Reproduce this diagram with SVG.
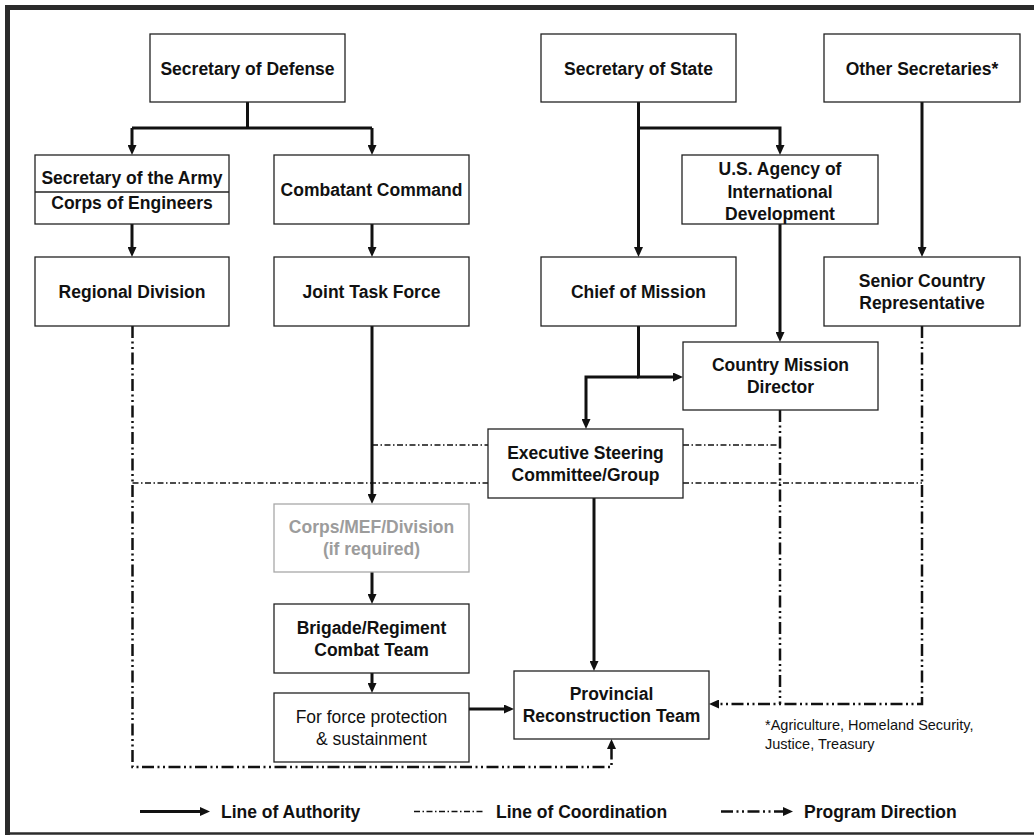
<svg xmlns="http://www.w3.org/2000/svg" width="1034" height="835" viewBox="0 0 1034 835">
<style>
.box{fill:#fff;stroke:#222;stroke-width:1.3}
.gbox{fill:#fff;stroke:#a8a8a8;stroke-width:1.3}
.t{font-family:"Liberation Sans",Arial,sans-serif;font-size:17.5px;font-weight:bold;fill:#111;text-anchor:middle}
.tr{font-family:"Liberation Sans",Arial,sans-serif;font-size:17.5px;fill:#111;text-anchor:middle}
.tg{font-family:"Liberation Sans",Arial,sans-serif;font-size:17.5px;font-weight:bold;fill:#9c9c9c;text-anchor:middle}
.fn{font-family:"Liberation Sans",Arial,sans-serif;font-size:14.5px;fill:#111}
.lg{font-family:"Liberation Sans",Arial,sans-serif;font-size:17.5px;font-weight:bold;fill:#111}
.auth{fill:none;stroke:#111;stroke-width:3}
.prog{fill:none;stroke:#111;stroke-width:2.5;stroke-dasharray:12 3.5 2 3.5 2 3.5}
.coord{fill:none;stroke:#111;stroke-width:1.5;stroke-dasharray:6 2.5 1.5 2.5}
.frame{stroke:#2b2b2b;fill:none}
</style>
<defs>
<marker id="arr" markerUnits="userSpaceOnUse" markerWidth="10" markerHeight="9" refX="3" refY="4.5" orient="auto">
<path d="M0,0 L10,4.5 L0,9 z" fill="#111"/>
</marker>
</defs>
<rect x="0" y="0" width="1034" height="835" fill="#fff"/>
<g id="frame">
<line class="frame" x1="7.5" y1="5" x2="7.5" y2="835" stroke-width="5"/>
<line class="frame" x1="5" y1="7.5" x2="1034" y2="7.5" stroke-width="5"/>
<line class="frame" x1="5" y1="833.5" x2="1034" y2="833.5" stroke-width="2.5"/>
</g>
<g id="connectors">
<path class="auth" d="M247.5,102 V128"/>
<path class="auth" d="M132,128 H372"/>
<path class="auth" d="M132,128 V148" marker-end="url(#arr)"/>
<path class="auth" d="M372,128 V148" marker-end="url(#arr)"/>
<path class="auth" d="M132,224 V250" marker-end="url(#arr)"/>
<path class="auth" d="M372,224 V250" marker-end="url(#arr)"/>
<path class="auth" d="M638.5,102 V250" marker-end="url(#arr)"/>
<path class="auth" d="M638.5,128 H780 V148" marker-end="url(#arr)"/>
<path class="auth" d="M922,102 V250" marker-end="url(#arr)"/>
<path class="auth" d="M780,224 V335" marker-end="url(#arr)"/>
<path class="auth" d="M638.5,326 V377 H676" marker-end="url(#arr)"/>
<path class="auth" d="M638.5,377 H586 V422" marker-end="url(#arr)"/>
<path class="auth" d="M372,326 V497" marker-end="url(#arr)"/>
<path class="auth" d="M372,572 V597" marker-end="url(#arr)"/>
<path class="auth" d="M372,673 V686" marker-end="url(#arr)"/>
<path class="auth" d="M469,709 H507" marker-end="url(#arr)"/>
<path class="auth" d="M594,498 V664" stroke-width="2.5" marker-end="url(#arr)"/>
<path class="coord" d="M372,445 H488"/>
<path class="coord" d="M683,445 H780"/>
<path class="coord" d="M132.5,483 H488"/>
<path class="coord" d="M683,483 H922"/>
<path class="prog" d="M132.5,326 V767 H611.5 V746" marker-end="url(#arr)"/>
<path class="prog" d="M922,326 V704 H716" marker-end="url(#arr)"/>
<path class="prog" d="M780,410 V704"/>
</g>
<g id="secretary-of-defense">
<rect class="box" x="150" y="34" width="195" height="68"/>
<text class="t" x="247.5" y="75">Secretary of Defense</text>
</g>
<g id="secretary-of-the-army">
<rect class="box" x="35" y="155" width="194" height="69"/>
<line x1="35" y1="192" x2="229" y2="192" stroke="#222" stroke-width="1.3"/>
<text class="t" x="132" y="184">Secretary of the Army</text>
<text class="t" x="132" y="209">Corps of Engineers</text>
</g>
<g id="combatant-command">
<rect class="box" x="274" y="155" width="195" height="69"/>
<text class="t" x="371.5" y="196">Combatant Command</text>
</g>
<g id="secretary-of-state">
<rect class="box" x="541" y="34" width="195" height="68"/>
<text class="t" x="638.5" y="75">Secretary of State</text>
</g>
<g id="other-secretaries">
<rect class="box" x="824" y="34" width="196" height="68"/>
<text class="t" x="922" y="75">Other Secretaries*</text>
</g>
<g id="usaid">
<rect class="box" x="682" y="155" width="196" height="69"/>
<text class="t" x="780" y="175">U.S. Agency of</text>
<text class="t" x="780" y="197.5">International</text>
<text class="t" x="780" y="220">Development</text>
</g>
<g id="regional-division">
<rect class="box" x="35" y="257" width="194" height="69"/>
<text class="t" x="132" y="298">Regional Division</text>
</g>
<g id="joint-task-force">
<rect class="box" x="274" y="257" width="195" height="69"/>
<text class="t" x="371.5" y="298">Joint Task Force</text>
</g>
<g id="chief-of-mission">
<rect class="box" x="541" y="257" width="195" height="69"/>
<text class="t" x="638.5" y="298">Chief of Mission</text>
</g>
<g id="senior-country-representative">
<rect class="box" x="824" y="257" width="196" height="69"/>
<text class="t" x="922" y="287">Senior Country</text>
<text class="t" x="922" y="309">Representative</text>
</g>
<g id="country-mission-director">
<rect class="box" x="683" y="342" width="195" height="68"/>
<text class="t" x="780.5" y="371">Country Mission</text>
<text class="t" x="780.5" y="393">Director</text>
</g>
<g id="executive-steering-committee">
<rect class="box" x="488" y="429" width="195" height="69"/>
<text class="t" x="585.5" y="459">Executive Steering</text>
<text class="t" x="585.5" y="481">Committee/Group</text>
</g>
<g id="corps-mef-division">
<rect class="gbox" x="274" y="504" width="195" height="68"/>
<text class="tg" x="371.5" y="533">Corps/MEF/Division</text>
<text class="tg" x="371.5" y="555">(if required)</text>
</g>
<g id="brigade-regiment">
<rect class="box" x="274" y="604" width="195" height="69"/>
<text class="t" x="371.5" y="634">Brigade/Regiment</text>
<text class="t" x="371.5" y="656">Combat Team</text>
</g>
<g id="force-protection">
<rect class="box" x="274" y="693" width="195" height="69"/>
<text class="tr" x="371.5" y="723">For force protection</text>
<text class="tr" x="371.5" y="745">&amp; sustainment</text>
</g>
<g id="provincial-reconstruction-team">
<rect class="box" x="514" y="671" width="195" height="68"/>
<text class="t" x="611.5" y="700">Provincial</text>
<text class="t" x="611.5" y="722">Reconstruction Team</text>
</g>
<g id="footnote">
<text class="fn" x="765" y="730">*Agriculture, Homeland Security,</text>
<text class="fn" x="765" y="749">Justice, Treasury</text>
</g>
<g id="legend">
<path class="auth" d="M140,811.5 H203" stroke-width="2.5" marker-end="url(#arr)"/>
<text class="lg" x="221" y="817.5">Line of Authority</text>
<path class="coord" d="M414,811.5 H485"/>
<text class="lg" x="496" y="817.5">Line of Coordination</text>
<path class="prog" d="M721,811.5 H786" marker-end="url(#arr)"/>
<text class="lg" x="804" y="817.5">Program Direction</text>
</g>
</svg>
